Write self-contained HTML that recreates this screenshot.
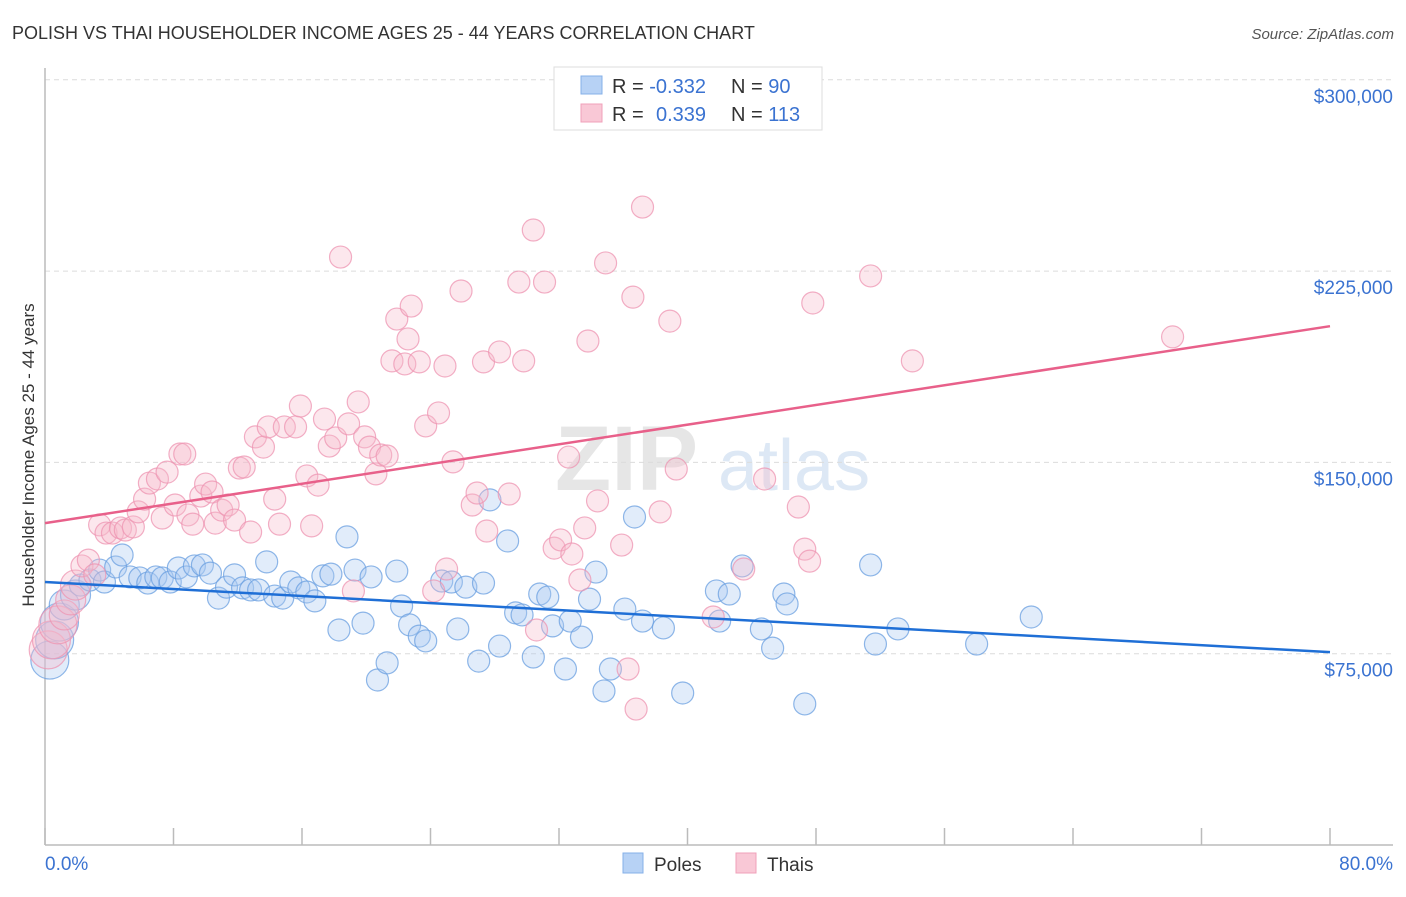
<!DOCTYPE html>
<html><head><meta charset="utf-8"><style>
body{margin:0;background:#fff;font-family:"Liberation Sans",sans-serif;}
svg text{font-family:"Liberation Sans",sans-serif;}
</style></head><body>
<svg id="chart" width="1406" height="892" xmlns="http://www.w3.org/2000/svg">
<text x="12" y="39" font-size="18" fill="#333">POLISH VS THAI HOUSEHOLDER INCOME AGES 25 - 44 YEARS CORRELATION CHART</text>
<text x="1394" y="39" font-size="15" fill="#555" font-style="italic" text-anchor="end">Source: ZipAtlas.com</text>
<g><text x="555" y="490" font-size="92" fill="#e6e6e6" font-family="Liberation Serif" font-weight="bold">ZIP</text><text x="718" y="490" font-size="72" fill="#dde8f5">atlas</text></g>
<g id="grid"></g>
<g id="axes"></g>
<g id="marks"></g>
<g id="lines"></g>
<text transform="translate(34,455) rotate(-90)" font-size="17" fill="#333" text-anchor="middle">Householder Income Ages 25 - 44 years</text>
<text x="45" y="870" font-size="19" fill="#3b73d1">0.0%</text>
<text x="1393" y="870" font-size="19" fill="#3b73d1" text-anchor="end">80.0%</text>
<g>
<rect x="554" y="67" width="268" height="63" fill="#fff" stroke="#ddd"/>
<rect x="581" y="76" width="21" height="18" fill="#b7d2f5" stroke="#86b0e8"/>
<rect x="581" y="104" width="21" height="18" fill="#f9c8d6" stroke="#f0a0ba"/>
<text x="612" y="93" font-size="20" fill="#333">R = <tspan fill="#3b73d1">-0.332</tspan><tspan x="731">N = </tspan><tspan fill="#3b73d1">90</tspan></text>
<text x="612" y="121" font-size="20" fill="#333">R = <tspan fill="#3b73d1" x="656">0.339</tspan><tspan x="731">N = </tspan><tspan fill="#3b73d1">113</tspan></text>
</g>
<g>
<rect x="623" y="853" width="20" height="20" fill="#b7d2f5" stroke="#86b0e8"/>
<text x="654" y="871" font-size="19" fill="#333">Poles</text>
<rect x="736" y="853" width="20" height="20" fill="#f9c8d6" stroke="#f0a0ba"/>
<text x="767" y="871" font-size="19" fill="#333">Thais</text>
</g>
</svg>
<script>
const yTicks=[75,150,225,300];
const yTickLabels=["$75,000","$150,000","$225,000","$300,000"];
const xTicks=[0,8,16,24,32,40,48,56,64,72,80];
const polesX=[0.3,0.6,0.9,1.2,1.9,2.2,2.8,3.4,3.7,4.4,4.8,5.3,5.9,6.4,6.9,7.3,7.8,8.3,8.8,9.3,9.8,10.3,10.8,11.3,11.8,12.3,12.8,13.3,13.8,14.3,14.8,15.3,15.8,16.3,16.8,17.3,17.8,18.3,18.8,19.3,19.8,20.3,20.7,21.3,21.9,22.2,22.7,23.3,23.7,24.7,25.3,25.7,26.2,27.0,27.3,27.7,28.3,28.8,29.3,29.7,30.4,30.8,31.3,31.6,32.4,32.7,33.4,33.9,34.3,34.8,35.2,36.1,36.7,37.2,38.5,39.7,41.8,42.0,42.6,43.4,44.6,45.3,46.0,46.2,47.3,51.4,51.7,53.1,58.0,61.4];
const polesY=[72.5,80.4,87.4,94.1,98.0,101.9,103.9,107.8,103.1,109.0,113.7,105.1,104.7,102.7,105.1,104.7,103.1,108.6,105.1,109.4,109.8,106.6,96.8,101.1,105.9,100.8,100.0,100.0,111.0,97.6,96.8,103.1,100.8,99.2,95.7,105.5,106.2,84.3,120.8,107.8,87.0,105.1,64.7,71.4,107.4,93.7,86.3,81.9,80.0,103.5,103.1,84.7,101.1,72.1,102.7,135.3,78.0,119.2,91.0,90.2,73.7,98.4,97.2,85.9,69.0,87.8,81.5,96.4,107.0,60.4,69.0,92.5,128.6,87.8,85.1,59.6,99.6,87.8,98.4,109.4,84.7,77.2,98.4,94.5,55.3,109.8,78.8,84.7,78.8,89.4];
const thaisX=[0.2,0.4,0.8,1.2,1.6,1.9,2.3,2.7,3.1,3.4,3.8,4.2,4.7,5.0,5.5,5.8,6.2,6.5,7.0,7.3,7.6,8.1,8.4,8.7,8.9,9.2,9.7,10.0,10.4,10.6,11.0,11.4,11.8,12.1,12.4,12.8,13.1,13.6,13.9,14.3,14.6,14.9,15.6,15.9,16.3,16.6,17.0,17.4,17.7,18.1,18.4,18.9,19.2,19.5,19.9,20.2,20.6,20.9,21.3,21.6,21.9,22.4,22.6,22.8,23.3,23.7,24.2,24.5,24.9,25.0,25.4,25.9,26.6,26.9,27.3,27.5,28.3,28.9,29.5,29.8,30.4,30.6,31.1,31.7,32.1,32.6,32.8,33.3,33.6,33.8,34.4,34.9,35.9,36.3,36.6,36.8,37.2,38.3,38.9,39.3,41.6,43.5,44.8,46.9,47.3,47.6,47.8,51.4,54.0,70.2];
const thaisY=[76.5,80.4,86.3,90.2,96.1,101.9,109.4,111.7,105.9,125.5,122.3,122.3,124.3,123.5,124.7,130.6,135.6,141.9,143.5,128.2,146.2,133.3,153.3,153.3,129.4,125.8,136.8,141.5,138.4,126.2,131.3,133.3,127.4,147.8,148.2,122.7,160.0,156.0,163.9,135.6,125.8,163.9,163.9,172.1,144.7,125.1,141.1,167.0,156.4,159.6,230.5,165.1,99.6,173.7,160.0,156.0,145.5,152.9,152.5,189.8,206.2,188.6,198.4,211.3,189.4,164.3,99.6,169.4,187.8,108.2,150.2,217.2,133.3,138.0,189.4,123.1,193.3,137.6,220.7,189.8,241.1,84.3,220.7,116.4,119.6,152.1,114.1,103.9,124.3,197.6,134.9,228.2,117.6,69.0,214.8,53.3,250.1,130.6,205.4,147.4,89.4,108.2,143.5,132.5,116.0,111.3,212.5,223.1,189.8,199.2];
const polesTrend=[103.1,75.6];
const thaisTrend=[126.2,203.4];

const NS="http://www.w3.org/2000/svg";
const xs=v=>45+v/80*1285;
const ys=v=>845-v/75*191.3;
function mk(tag,attrs,parent){const e=document.createElementNS(NS,tag);for(const k in attrs)e.setAttribute(k,attrs[k]);parent.appendChild(e);return e;}
const grid=document.getElementById('grid'),axes=document.getElementById('axes'),marks=document.getElementById('marks'),lines=document.getElementById('lines');
yTicks.forEach((t,i)=>{
  const g=mk('line',{x1:45,x2:1393,y1:ys(t),y2:ys(t),stroke:'#dcdcdc','stroke-dasharray':'5,4'},grid);
  
  
  const l=mk('text',{x:1393,y:ys(t)+23,'font-size':19,fill:'#3b73d1','text-anchor':'end'},axes);
  l.textContent=yTickLabels[i];
  
  
});
const ya=mk('line',{x1:45,x2:45,y1:68,y2:845,stroke:'#bbb','stroke-width':1.5},axes);


const xa=mk('line',{x1:45,x2:1393,y1:845,y2:845,stroke:'#bbb','stroke-width':1.5},axes);


xTicks.forEach(t=>{
  const k=mk('line',{x1:xs(t),x2:xs(t),y1:828,y2:845,stroke:'#bbb','stroke-width':1.5},axes);
  
  
});
function dots(X,Y,fill,stroke,name){
  X.forEach((x,i)=>{
    const r=x<1?19:(x<2?15:11);
    const c=mk('circle',{cx:xs(x),cy:ys(Y[i]),r:r,fill:fill,'fill-opacity':0.35,stroke:stroke,'stroke-opacity':0.75,'stroke-width':1.2},marks);
    
    
  });
}
dots(polesX,polesY,'#a9c9f2','#6a9fe0','point-poles');
dots(thaisX,thaisY,'#f7b9cc','#ee94b2','point-thais');
const bl=mk('line',{x1:xs(0),y1:ys(polesTrend[0]),x2:xs(80),y2:ys(polesTrend[1]),stroke:'#1f6fd6','stroke-width':2.5},lines);


const pl=mk('line',{x1:xs(0),y1:ys(thaisTrend[0]),x2:xs(80),y2:ys(thaisTrend[1]),stroke:'#e8608a','stroke-width':2.5},lines);


</script>
</body></html>
